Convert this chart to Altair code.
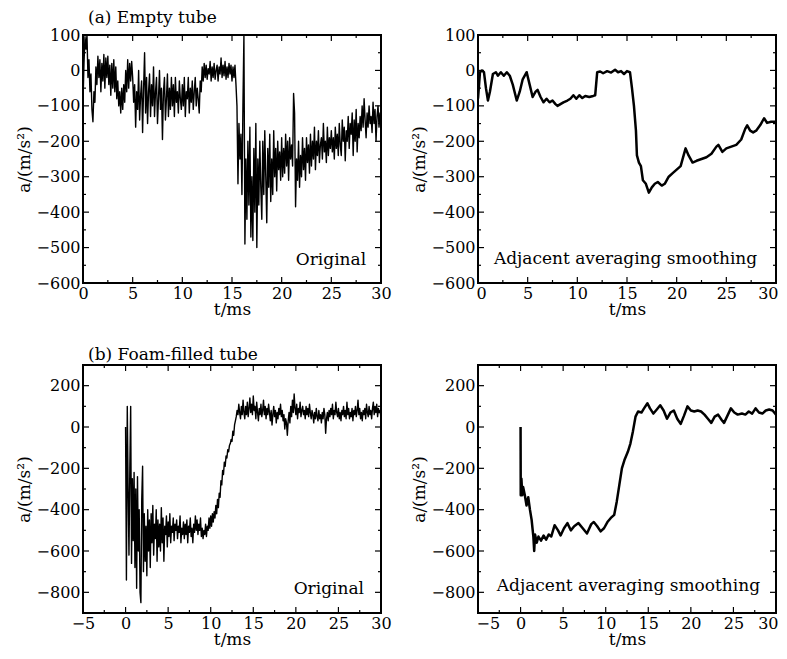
import altair as alt
import pandas as pd
import numpy as np

FONT = "DejaVu Serif"
W, H = 298, 248

# ---------------- data ----------------
# (a) Empty tube, original signal, sampled every 0.1 ms from 0 to 30 ms
a_orig_vals = [
    -90, 20, 95, 60, 100, -20, 30, -60, -10, -110,
    -145, -60, -90, 10, -40, 40, -20, 30, -60, 20,
    -30, 45, -50, 35, -20, 40, -40, 15, -70, 20,
    -50, 30, -60, 10, -80, -30, -100, -60, -120, -50,
    -110, -40, -90, 0, -60, 30, -50, 20, -30, 25,
    -20, -90, -40, -160, -60, -110, 0, -140, -70, -30,
    -175, -50, 50, -120, -20, -150, -60, -10, -130, -40,
    -100, 10, -130, -60, -20, -150, -80, 0, -110, -50,
    -195, -60, -20, -140, -80, -10, -130, -50, -110, -20,
    -100, -40, -130, -20, -90, -60, -120, -30, -80, -110,
    -40, -100, -20, -130, -60, -80, -20, -120, -50, -90,
    -30, -110, -60, -20, -100, -50, -80, -120, -30, -60,
    10, -30, 20, -20, 15, -25, 5, -10, 25, -30,
    10, -20, 20, -25, 0, 15, -30, 10, -10, 35,
    -20, 15, -15, 25, -25, 10, -20, 20, -10, 15,
    -30, 10, -20, 15, -40, -100, -320, -150, -250, -180,
    -350, -100, 100, -490, -250, -420, -200, -380, -160, -470,
    -300, -480, -220, -400, -150, -500, -250, -380, -200, -330,
    -420, -200, -350, -170, -300, -430, -220, -330, -180, -370,
    -250, -350, -170, -300, -220, -340, -200, -280, -230, -310,
    -190, -300, -220, -290, -180, -270, -200, -310, -190, -250,
    -210, -270, -65, -120, -385, -250, -310, -200, -330, -240,
    -300, -190, -280, -220, -310, -190, -260, -210, -290, -180,
    -270, -200, -250, -160, -280, -200, -240, -170, -260, -210,
    -190, -250, -150, -230, -200, -260, -160, -240, -190, -220,
    -170, -230, -190, -250, -160, -220, -180, -240, -150, -210,
    -240, -140, -200, -160, -255, -170, -200, -130, -220, -150,
    -180, -120, -240, -140, -200, -110, -230, -150, -190, -130,
    -170, -100, -160, -80, -140, -190, -120, -160, -100, -150,
    -130, -175, -90, -150, -110, -200, -130, -100, -160, -120,
    -150,
]

# (a) Empty tube, adjacent averaging smoothing
a_smooth_t = [
    0, 0.2, 0.4, 0.6, 0.8, 1.0, 1.2, 1.5, 1.8, 2.0, 2.3, 2.6, 2.9, 3.2, 3.5, 3.9,
    4.2, 4.5, 4.9, 5.2, 5.5, 5.8, 6.0, 6.3, 6.6, 6.9, 7.2, 7.5, 7.8, 8.0, 8.3, 8.6,
    9.0, 9.3, 9.6, 9.9, 10.2, 10.5, 10.8, 11.2, 11.6, 11.8, 12.0, 12.3, 12.6, 13.0,
    13.4, 13.8, 14.1, 14.4, 14.7, 15.0, 15.3, 15.5, 15.7, 15.9, 16.0, 16.2, 16.4,
    16.6, 16.9, 17.2, 17.5, 17.8, 18.1, 18.5, 18.8, 19.2, 19.6, 20.0, 20.4, 20.7,
    20.9, 21.2, 21.6, 22.0, 22.5, 23.0, 23.5, 24.0, 24.2, 24.6, 25.0, 25.5, 26.0,
    26.5, 26.9, 27.1, 27.4, 27.7, 28.0, 28.4, 28.8, 29.1, 29.5, 30.0,
]
a_smooth_vals = [
    -80, -5, 0, -5, -50, -85, -60, -10, -5, -15, -5, -15, -5, -15, -40, -85,
    -60, -25, -5, -40, -75, -60, -55, -75, -90, -80, -90, -85, -95, -100, -95, -90,
    -85, -80, -70, -80, -70, -78, -72, -75, -72, -70, -5, -3, -8, -2,
    -6, 2, -5, -2, -10, -2, -5, -50, -100, -170, -240, -260, -270,
    -310, -320, -345, -330, -320, -315, -325, -320, -300, -290, -280, -270, -240,
    -220, -240, -260, -255, -250, -245, -235, -215, -210, -230, -220, -215, -210,
    -195, -165, -155, -170, -175, -170, -155, -135, -148, -145, -145,
]

# (b) Foam-filled tube, original signal, sampled every 0.1 ms from 0 to 30 ms
b_orig_vals = [
    0, -740, 100, -300, -620, -200, 100, -660, -250, -550,
    -220, -680, -300, -780, -240, -600, -400, -800, -850, -350,
    -190, -700, -420, -650, -480, -720, -400, -600, -450, -680,
    -420, -560, -380, -620, -470, -540, -400, -650, -450, -580,
    -470, -600, -390, -560, -440, -650, -480, -520, -430, -580,
    -460, -530, -420, -560, -480, -510, -440, -550, -470, -500,
    -450, -540, -480, -510, -430, -560, -490, -520, -460, -540,
    -470, -520, -450, -560, -480, -510, -440, -530, -490, -560,
    -470, -510, -430, -500, -450, -520, -470, -500, -440, -530,
    -490, -540, -500, -520, -470, -530, -480, -500, -440, -490,
    -430, -480, -420, -460, -410, -440, -380, -420, -350, -390,
    -320, -340, -260, -280, -210, -230, -170, -190, -140, -150,
    -110, -120, -90, -80, -60, -70, -20, -40, 10, 30,
    50, 80, 60, 110, 70, 40, 100, 60, 130, 70,
    40, 100, 60, 120, 50, 90, 140, 70, 110, 60,
    150, 80, 100, 40, 120, 70, 30, 90, 60, 110,
    50, 80, 130, 60, 100, 40, 90, 60, 110, 70,
    30, 80, 10, 60, 100, 50, 80, 20, 70, 40,
    90, 60, 110, 50, 80, 30, 60, -10, 40, 20,
    -40, 30, 70, 20, 100, 50, 130, 70, 160, 90,
    60, 110, 40, 90, 70, 120, 50, 80, 100, 60,
    80, 40, 100, 60, 90, 50, 110, 70, 40, 80,
    60, 20, 70, 40, 90, 50, 30, 80, 40, 60,
    20, 70, 40, 90, 60, -30, 40, 70, 30, 80,
    50, 90, 60, 110, 40, 80, 60, 120, 70, 50,
    90, 40, 70, 30, 80, 60, 100, 50, 80, 40,
    120, 60, 90, 40, 70, 50, 90, 30, 80, 60,
    100, 50, 80, 130, 60, 90, 40, 70, 30, 80,
    60, 90, 40, 110, 70, 50, 100, 60, 80, 40,
    90, 120, 60, 100, 70, 110, 50, 90, 70, 80,
    40,
]

# (b) Foam-filled tube, adjacent averaging smoothing
b_smooth_t = [
    0.0, 0.02, 0.1, 0.2, 0.3, 0.5, 0.7, 0.9, 1.1, 1.3, 1.5, 1.6, 1.7, 1.9, 2.1,
    2.4, 2.7, 3.0, 3.3, 3.6, 4.0, 4.4, 4.7, 5.1, 5.5, 5.9, 6.3, 6.8, 7.3, 7.8,
    8.3, 8.6, 9.0, 9.4, 9.8, 10.2, 10.6, 11.0, 11.3, 11.6, 11.9, 12.2, 12.6,
    12.9, 13.2, 13.5, 13.8, 14.2, 14.5, 14.9, 15.2, 15.6, 16.0, 16.4, 16.8,
    17.2, 17.6, 18.0, 18.4, 18.8, 19.2, 19.6, 20.0, 20.4, 20.8, 21.2, 21.6,
    22.0, 22.4, 22.8, 23.2, 23.6, 23.9, 24.3, 24.7, 25.1, 25.5, 26.0, 26.4,
    26.8, 27.2, 27.6, 28.0, 28.4, 28.8, 29.2, 29.6, 30.0,
]
b_smooth_vals = [
    0, -330, -250, -330, -290, -330, -380, -340, -400, -450, -530, -600, -520,
    -560, -530, -550, -525, -545, -520, -530, -475, -500, -525, -490, -465,
    -500, -480, -465, -490, -515, -470, -460, -480, -505, -490, -460, -440,
    -425, -360, -280, -200, -160, -120, -80, -20, 50, 75, 70, 90, 115, 90, 65,
    85, 105, 80, 40, 70, 80, 40, 15, 55, 100, 80, 75, 80, 75, 60, 40, 20, 50,
    60, 35, 20, 55, 90, 70, 60, 65, 60, 75, 65, 90, 70, 65, 80, 85, 80, 60,
]

sample_t = np.round(np.arange(0, 301) * 0.1, 1)

# axis ticks
a_x_major = [0, 5, 10, 15, 20, 25, 30]
a_x_minor = [2.5, 7.5, 12.5, 17.5, 22.5, 27.5]
a_y_major = [100, 0, -100, -200, -300, -400, -500, -600]
a_y_minor = [50, -50, -150, -250, -350, -450, -550]
b_x_major = [-5, 0, 5, 10, 15, 20, 25, 30]
b_x_minor = [-2.5, 2.5, 7.5, 12.5, 17.5, 22.5, 27.5]
b_y_major = [200, 0, -200, -400, -600, -800]
b_y_minor = [100, -100, -300, -500, -700]

AX = dict(ticks=False, grid=False, domain=False, format="d",
          labelFont=FONT, labelFontSize=16, labelColor="black",
          titleFont=FONT, titleFontSize=17, titleColor="black",
          titleFontWeight="normal")


def panel(t, vals, xdom, ydom, xmaj, xmin, ymaj, ymin, sw, label, lt, la, lalign,
          title, flush):
    xs = alt.Scale(domain=xdom, nice=False, zero=False, padding=0)
    ys = alt.Scale(domain=ydom, nice=False, zero=False, padding=0)
    if flush:
        xaxis = alt.Axis(values=xmaj, title="t/ms", labelPadding=2, titlePadding=0,
                         labelFlush=True, labelFlushOffset=2, **AX)
    else:
        xaxis = alt.Axis(values=xmaj, title="t/ms", labelPadding=2, titlePadding=0,
                         labelFlush=False, **AX)
    yaxis = alt.Axis(values=ymaj, title="a/(m/s²)", labelPadding=3, titlePadding=3,
                     labelFlush=False, **AX)
    xe = alt.X("t:Q", scale=xs, axis=xaxis)
    ye = alt.Y("a:Q", scale=ys, axis=yaxis)
    df = pd.DataFrame({"t": t, "a": vals})
    line = alt.Chart(df).mark_line(color="black", strokeWidth=sw, clip=True,
                                   strokeJoin="round").encode(
        x=xe, y=ye, order="idx:Q",
    ).transform_window(idx="row_number()")

    layers = [line]
    for vx, vy, L in [(xmaj, ymaj, 6), (xmin, ymin, 3)]:
        dx = pd.DataFrame({"t": vx})
        dy = pd.DataFrame({"a": vy})
        layers.append(alt.Chart(dx).mark_rule(color="black", strokeWidth=1.2).encode(
            x=xe, y=alt.value(H), y2=alt.value(H - L)))
        layers.append(alt.Chart(dx).mark_rule(color="black", strokeWidth=1.2).encode(
            x=xe, y=alt.value(0), y2=alt.value(L)))
        layers.append(alt.Chart(dy).mark_rule(color="black", strokeWidth=1.2).encode(
            y=ye, x=alt.value(0), x2=alt.value(L)))
        layers.append(alt.Chart(dy).mark_rule(color="black", strokeWidth=1.2).encode(
            y=ye, x=alt.value(W), x2=alt.value(W - L)))

    tdf = pd.DataFrame({"t": [lt], "a": [la], "label": [label]})
    layers.append(alt.Chart(tdf).mark_text(font=FONT, fontSize=17, color="black",
                                           align=lalign, baseline="alphabetic").encode(
        x=xe, y=ye, text="label:N"))

    ch = alt.layer(*layers).properties(
        width=W, height=H,
        title=alt.TitleParams(title, anchor="start", frame="group",
                              font=FONT, fontSize=17, fontWeight="normal",
                              color="black", dx=5, offset=0),
    )
    return ch


a1 = panel(sample_t, a_orig_vals, [0, 30], [-600, 100], a_x_major, a_x_minor,
           a_y_major, a_y_minor, 1.4, "Original", 28.5, -550, "right",
           "(a) Empty tube", False)
a2 = panel(a_smooth_t, a_smooth_vals, [0, 30], [-600, 100], a_x_major, a_x_minor,
           a_y_major, a_y_minor, 2.5, "Adjacent averaging smoothing", 1.6, -545, "left",
           " ", True)
b1 = panel(sample_t, b_orig_vals, [-5, 30], [-900, 300], b_x_major, b_x_minor,
           b_y_major, b_y_minor, 1.4, "Original", 28.0, -810, "right",
           "(b) Foam-filled tube", False)
b2 = panel(b_smooth_t, b_smooth_vals, [-5, 30], [-900, 300], b_x_major, b_x_minor,
           b_y_major, b_y_minor, 2.5, "Adjacent averaging smoothing", -2.8, -795, "left",
           " ", True)

top = alt.hconcat(a1, a2, spacing=16)
bottom = alt.hconcat(b1, b2, spacing=16)
chart = alt.vconcat(top, bottom, spacing=27).properties(
    padding={"left": 6, "top": 0, "right": 0, "bottom": 0}
).configure(font=FONT).configure_axis(
    labelFont=FONT, titleFont=FONT
).configure_view(
    stroke="black", strokeWidth=2
)

chart.save("out.html", embed_options={"renderer": "svg", "actions": False})
